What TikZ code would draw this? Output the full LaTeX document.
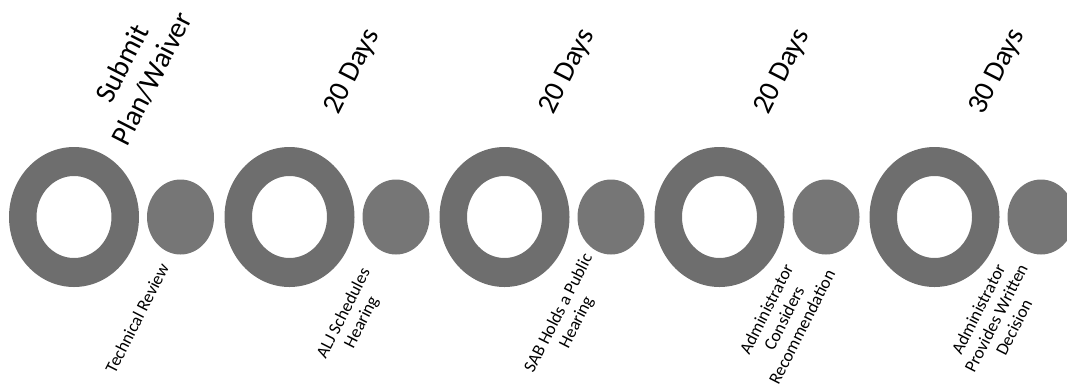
\documentclass[tikz,border=0pt]{standalone}
\usepackage{fontspec}
\setmainfont{Carlito}
\definecolor{ringgray}{RGB}{110,110,110}
\definecolor{dotgray}{RGB}{118,118,118}
\begin{document}
\begin{tikzpicture}[x=1pt,y=-1pt,
  ringshape/.style={fill=ringgray, even odd rule},
  dotshape/.style={fill=dotgray},
  toplabel/.style={rotate=63, align=center, inner sep=0pt, font=\fontsize{29}{33}\selectfont},
  botlabel/.style={rotate=63, align=center, inner sep=0pt, font=\fontsize{17.5}{20}\selectfont}]
\useasboundingbox (0,0) rectangle (1067,389);
% rings and dots
\foreach \cx [count=\i] in {74,289.5,504.5,719.5,934.5}{
  \coordinate (ring\i) at (\cx,217);
  \coordinate (dot\i) at (\cx+106.5,217);
  \path[ringshape] (ring\i) ellipse [x radius=65pt, y radius=70pt]
                   (ring\i) ellipse [x radius=37.5pt, y radius=41pt];
  \path[dotshape] (dot\i) ellipse [x radius=33.5pt, y radius=37.5pt];
}
% top labels
\node[toplabel] (t1) at (137,71) {Submit\\Plan/Waiver};
\node[toplabel] (t2) at (352.5,72) {20 Days};
\node[toplabel] (t3) at (567.5,72) {20 Days};
\node[toplabel] (t4) at (782.5,72) {20 Days};
\node[toplabel] (t5) at (997.5,72) {30 Days};
% bottom labels
\node[botlabel] (b1) at (137,318) {Technical Review};
\node[botlabel] (b2) at (353,318) {ALJ Schedules\\Hearing};
\node[botlabel] (b3) at (568,318) {SAB Holds a Public\\Hearing};
\node[botlabel] (b4) at (784,318) {Administrator\\Considers\\Recommendation};
\node[botlabel] (b5) at (996,318) {Administrator\\Provides Written\\Decision};
\end{tikzpicture}
\end{document}
